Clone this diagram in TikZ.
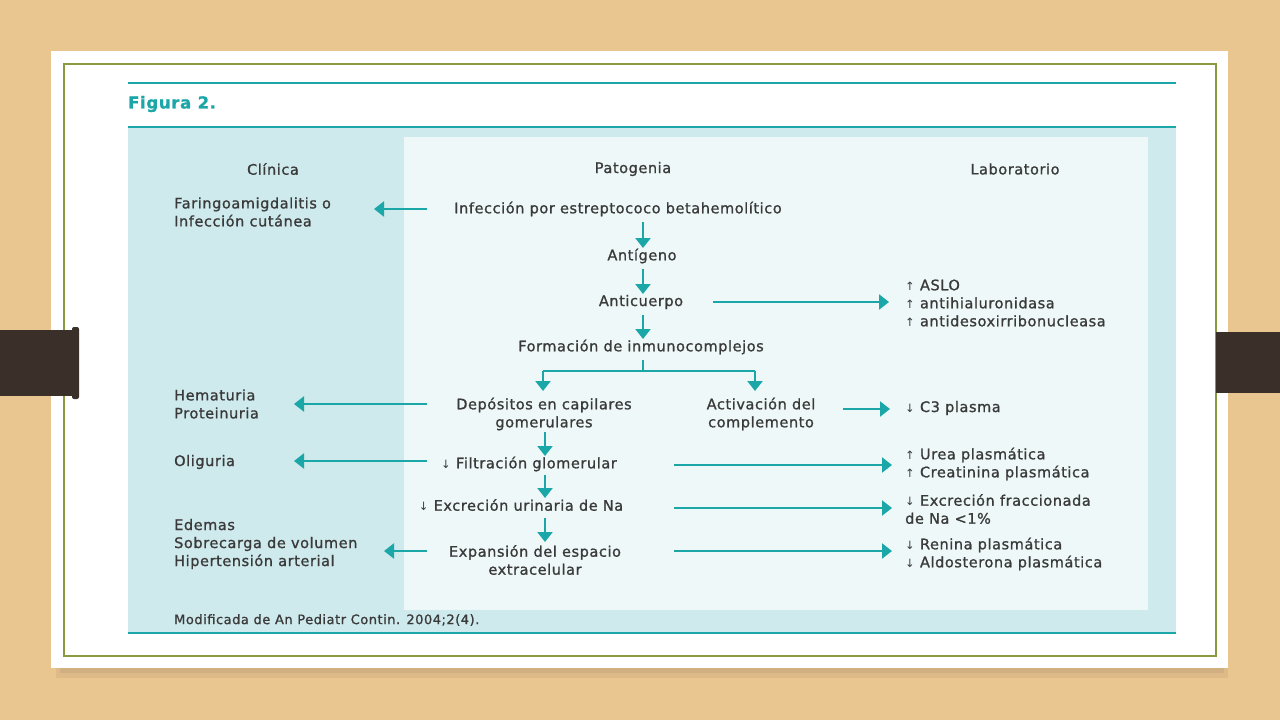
\documentclass[tikz,border=0pt]{standalone}
\usepackage{fontspec}
\setmainfont{DejaVu Sans}[FakeBold=1.1, LetterSpace=4]
\newfontfamily\symf{DejaVu Sans}
\usetikzlibrary{arrows.meta}
\definecolor{wood}{HTML}{E9C590}
\definecolor{olive}{HTML}{8A9A3E}
\definecolor{teal2}{HTML}{1BA6A8}
\definecolor{boxbg}{HTML}{CFEAED}
\definecolor{innerbg}{HTML}{EEF8F8}
\definecolor{txt}{HTML}{3A3A3A}
\definecolor{barc}{HTML}{3B3029}
\newcommand{\up}{{\symf\fontsize{11.5}{11}\selectfont ↑}}
\newcommand{\dn}{{\symf\fontsize{11.5}{11}\selectfont ↓}}
\begin{document}
\begin{tikzpicture}[x=1pt,y=-1pt,
 lbl/.style={font=\fontsize{14.5}{18}\selectfont, text=txt, inner sep=0pt, align=left},
 clbl/.style={lbl, align=center},
 arr/.style={draw=teal2, line width=2.4pt, -{Triangle[length=10pt,width=15pt]}},
 seg/.style={draw=teal2, line width=2.4pt},
 ]
\useasboundingbox (0,0) rectangle (1280,720);
% background
\fill[wood] (0,0) rectangle (1280,720);
% panel shadow
\fill[black,opacity=0.05] (56,664) rectangle (1228,678);
\fill[black,opacity=0.06] (60,664) rectangle (1224,673);
% white panel
\fill[white] (51,51) rectangle (1228,668);
\draw[olive, line width=2pt] (64,64) rectangle (1216,656);
% figure box
\fill[boxbg] (128,127) rectangle (1176,633);
\fill[innerbg] (404,137) rectangle (1148,610);
\draw[teal2, line width=2pt] (128,83) -- (1176,83);
\draw[teal2, line width=2pt] (128,127) -- (1176,127);
\draw[teal2, line width=2pt] (128,633) -- (1176,633);
% bars
\fill[barc] (0,330) rectangle (76,396);
\fill[barc, rounded corners=2pt] (72,327) rectangle (79,399);
\fill[barc] (1216,332) rectangle (1280,393);

\node[anchor=west, font=\fontsize{16.5}{18}\selectfont\bfseries, text=teal2, inner sep=0pt] (fig) at (128,104) {Figura 2.};

% headers
\node[clbl] (hcl) at (273,169) {Clínica};
\node[clbl] (hpa) at (633,169) {Patogenia};
\node[clbl] (hla) at (1015,169) {Laboratorio};

% central column
\node[clbl] (inf) at (618,209) {Infección por estreptococo betahemolítico};
\node[clbl] (ag) at (642,256) {Antígeno};
\node[clbl] (ac) at (641,302) {Anticuerpo};
\node[clbl] (form) at (641,347) {Formación de inmunocomplejos};
\node[clbl] (dep) at (544,414) {Depósitos en capilares\\gomerulares};
\node[clbl] (act) at (761,414) {Activación del\\complemento};
\node[clbl] (fil) at (529,464) {\dn\ Filtración glomerular};
\node[clbl] (exc) at (521,505) {\dn\ Excreción urinaria de Na};
\node[clbl] (exp) at (535,560) {Expansión del espacio\\extracelular};

% left column
\node[lbl, anchor=west] (far) at (174,212) {Faringoamigdalitis o\\Infección cutánea};
\node[lbl, anchor=west] (hem) at (174,404) {Hematuria\\Proteinuria};
\node[lbl, anchor=west] (oli) at (174,462) {Oliguria};
\node[lbl, anchor=west] (ede) at (174,544) {Edemas\\Sobrecarga de volumen\\Hipertensión arterial};

% right column
\node[lbl, anchor=west] (aslo) at (905,303) {\up\ ASLO\\\up\ antihialuronidasa\\\up\ antidesoxirribonucleasa};
\node[lbl, anchor=west] (c3) at (905,408) {\dn\ C3 plasma};
\node[lbl, anchor=west] (urea) at (905,464) {\up\ Urea plasmática\\\up\ Creatinina plasmática};
\node[lbl, anchor=west] (fena) at (905,509) {\dn\ Excreción fraccionada\\de Na <1\%};
\node[lbl, anchor=west] (ren) at (905,554) {\dn\ Renina plasmática\\\dn\ Aldosterona plasmática};

\node[lbl, anchor=west, font=\fontsize{13}{14}\selectfont] (src) at (174,620) {Modificada de An Pediatr Contin. 2004;2(4).};

% connector coordinates
\coordinate (a1s) at (427,209); \coordinate (a1e) at (374,209);
\coordinate (v1s) at (643,222); \coordinate (v1e) at (643,248);
\coordinate (v2s) at (643,269); \coordinate (v2e) at (643,294);
\coordinate (h2s) at (713,302); \coordinate (h2e) at (889,302);
\coordinate (v3s) at (643,315); \coordinate (v3e) at (643,339);
\coordinate (bt) at (643,360); \coordinate (bm) at (643,371);
\coordinate (bl) at (543,371); \coordinate (br) at (755,371);
\coordinate (ble) at (543,391); \coordinate (bre) at (755,391);
\coordinate (h3s) at (843,409); \coordinate (h3e) at (890,409);
\coordinate (l3s) at (427,404); \coordinate (l3e) at (294,404);
\coordinate (v4s) at (545,432); \coordinate (v4e) at (545,456);
\coordinate (l4s) at (427,461); \coordinate (l4e) at (294,461);
\coordinate (h4s) at (674,465); \coordinate (h4e) at (892,465);
\coordinate (v5s) at (545,475); \coordinate (v5e) at (545,498);
\coordinate (h5s) at (674,508); \coordinate (h5e) at (892,508);
\coordinate (v6s) at (545,518); \coordinate (v6e) at (545,542);
\coordinate (l6s) at (427,551); \coordinate (l6e) at (384,551);
\coordinate (h6s) at (674,551); \coordinate (h6e) at (892,551);

\draw[arr] (a1s) -- (a1e);
\draw[arr] (v1s) -- (v1e);
\draw[arr] (v2s) -- (v2e);
\draw[arr] (h2s) -- (h2e);
\draw[arr] (v3s) -- (v3e);
\draw[seg] (bt) -- (bm);
\draw[seg] (bl) -- (br);
\draw[arr] (bl) -- (ble);
\draw[arr] (br) -- (bre);
\draw[arr] (h3s) -- (h3e);
\draw[arr] (l3s) -- (l3e);
\draw[arr] (v4s) -- (v4e);
\draw[arr] (l4s) -- (l4e);
\draw[arr] (h4s) -- (h4e);
\draw[arr] (v5s) -- (v5e);
\draw[arr] (h5s) -- (h5e);
\draw[arr] (v6s) -- (v6e);
\draw[arr] (l6s) -- (l6e);
\draw[arr] (h6s) -- (h6e);
\end{tikzpicture}
\end{document}
